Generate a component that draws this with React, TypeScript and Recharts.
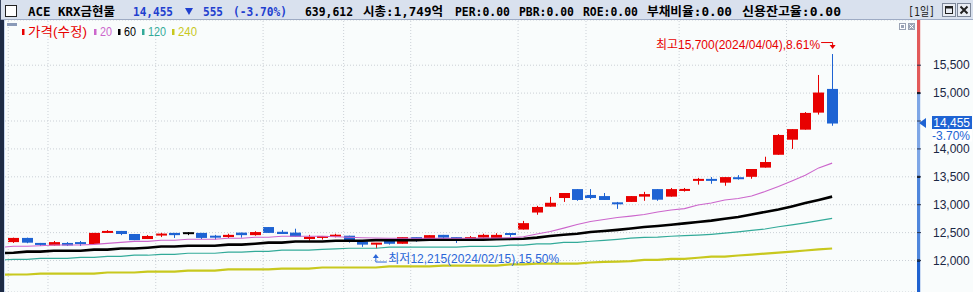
import React from 'react';
import {
  ComposedChart, Bar, Line, XAxis, YAxis, CartesianGrid,
  ReferenceLine, ReferenceArea, ReferenceDot,
} from 'recharts';

// daily candles, 2024-01 .. 2024-04-04 (62 sessions)
const opens = [
  12330, 12405, 12315, 12270, 12315, 12330, 12295, 12495, 12530, 12475,
  12385, 12455, 12495, 12490, 12495, 12435, 12420, 12500, 12455, 12600,
  12515, 12500, 12385, 12405, 12440, 12445, 12340, 12290, 12355, 12300,
  12420, 12380, 12460, 12420, 12355, 12410, 12390, 12480, 12555, 12860,
  12965, 13120, 13280, 13175, 13155, 13030, 13050, 13145, 13280, 13145,
  13250, 13430, 13460, 13395, 13485, 13500, 13665, 13895, 14165, 14345,
  14650, 15075,
];
const highs = [
  12410, 12410, 12315, 12350, 12330, 12350, 12495, 12545, 12530, 12475,
  12455, 12495, 12495, 12510, 12495, 12460, 12480, 12500, 12525, 12600,
  12545, 12570, 12460, 12440, 12480, 12445, 12365, 12315, 12355, 12420,
  12420, 12455, 12460, 12420, 12440, 12480, 12490, 12490, 12710, 12980,
  13140, 13210, 13280, 13280, 13210, 13050, 13155, 13230, 13280, 13300,
  13300, 13480, 13495, 13495, 13530, 13640, 13860, 14265, 14355, 14660,
  15325, 15700,
];
const lows = [
  12315, 12310, 12260, 12270, 12260, 12260, 12295, 12495, 12455, 12365,
  12385, 12420, 12405, 12455, 12385, 12375, 12405, 12410, 12445, 12495,
  12475, 12425, 12355, 12375, 12415, 12320, 12245, 12215, 12285, 12300,
  12335, 12380, 12380, 12315, 12355, 12410, 12390, 12425, 12555, 12820,
  12965, 13050, 13070, 13100, 13085, 12925, 13050, 13070, 13070, 13145,
  13235, 13360, 13375, 13340, 13450, 13465, 13665, 13895, 14000, 14345,
  14615, 14415,
];
const closes = [
  12405, 12320, 12280, 12330, 12270, 12295, 12495, 12530, 12475, 12365,
  12440, 12475, 12455, 12490, 12405, 12420, 12460, 12455, 12510, 12495,
  12475, 12425, 12425, 12440, 12450, 12365, 12285, 12315, 12300, 12420,
  12360, 12455, 12410, 12360, 12420, 12460, 12460, 12470, 12670, 12960,
  13035, 13210, 13085, 13120, 13085, 13020, 13155, 13190, 13090, 13280,
  13280, 13460, 13430, 13495, 13465, 13640, 13765, 14250, 14355, 14645,
  15010, 14455,
];

// moving averages; first value is the session just left of the visible window
const ma20 = [
  12235,
  12255, 12255, 12265, 12278, 12278, 12278, 12290, 12308, 12326, 12344,
  12344, 12362, 12362, 12380, 12380, 12380, 12398, 12398, 12416, 12416,
  12434, 12434, 12434, 12434, 12427, 12416, 12409, 12403, 12398, 12398,
  12398, 12398, 12398, 12398, 12398, 12403, 12403, 12409, 12427, 12475,
  12520, 12580, 12645, 12700, 12735, 12770, 12795, 12825, 12870, 12905,
  12930, 12995, 13030, 13085, 13110, 13155, 13235, 13325, 13425, 13530,
  13660, 13745,
];
const ma60 = [
  12130,
  12140, 12160, 12160, 12175, 12175, 12175, 12195, 12195, 12215, 12215,
  12230, 12250, 12250, 12265, 12265, 12265, 12285, 12285, 12300, 12320,
  12320, 12340, 12340, 12340, 12355, 12355, 12355, 12365, 12365, 12365,
  12365, 12375, 12375, 12375, 12375, 12375, 12380, 12385, 12390, 12410,
  12440, 12462, 12480, 12510, 12530, 12550, 12575, 12600, 12620, 12640,
  12665, 12690, 12715, 12750, 12780, 12825, 12870, 12915, 12970, 13030,
  13085, 13145,
];
const ma120 = [
  12010,
  12020, 12020, 12040, 12040, 12040, 12055, 12055, 12075, 12075, 12095,
  12095, 12110, 12110, 12130, 12130, 12130, 12150, 12150, 12165, 12165,
  12185, 12185, 12185, 12200, 12210, 12220, 12220, 12220, 12240, 12240,
  12240, 12240, 12240, 12240, 12255, 12255, 12255, 12275, 12275, 12300,
  12300, 12325, 12325, 12345, 12360, 12380, 12400, 12415, 12420, 12435,
  12445, 12455, 12470, 12490, 12515, 12540, 12565, 12605, 12640, 12675,
  12715, 12755,
];
const ma240 = [
  11745,
  11750, 11750, 11765, 11765, 11765, 11765, 11765, 11785, 11785, 11785,
  11800, 11800, 11800, 11820, 11820, 11820, 11840, 11840, 11840, 11840,
  11855, 11855, 11855, 11875, 11875, 11875, 11875, 11875, 11895, 11895,
  11895, 11895, 11910, 11910, 11910, 11910, 11910, 11930, 11930, 11945,
  11945, 11945, 11945, 11965, 11975, 11980, 11990, 12010, 12010, 12030,
  12030, 12050, 12070, 12070, 12090, 12105, 12125, 12140, 12160, 12180,
  12200, 12215,
];

const priceTicks = [12000, 12500, 13000, 13500, 14000, 14500, 15000, 15500];
const dateGrid = [-0.39, 2.57, 10.6, 18.6, 24.6, 29.6, 37.6, 42.66, 49.6, 57.6];
const axisBands = [
  { from: 15000, to: 16310, color: '#e25a5a' },
  { from: 13500, to: 15000, color: '#7ea6e6' },
  { from: 12000, to: 13500, color: '#4f86dc' },
  { from: 11436, to: 12000, color: '#1f62d0' },
];
const bandMarks = [15000, 13500, 12000];
const hiDate = '2024/04/04';
const loDate = '2024/02/15';

const X_DOMAIN: [number, number] = [-0.633, 67.325];
const Y_DOMAIN: [number, number] = [11436, 16310];

const RED = '#e80000';
const BLUE = '#1e63d3';
const VIOLET = '#cc66cc';
const TEAL = '#33aa99';
const OLIVE = '#c8c81e';
const BG = '#f9fcfc';
const GRID = '#cbd0d6';
const FONT = "'Liberation Sans', Arial, 'Noto Sans CJK KR', sans-serif";
const HFONT = "'DejaVu Sans Mono', 'Noto Sans CJK KR', monospace";

const rows = ma20.map((_, k) => {
  const i = k - 1;
  const r: any = { i, ma20: ma20[k], ma60: ma60[k], ma120: ma120[k], ma240: ma240[k] };
  if (i >= 0) {
    r.o = opens[i]; r.h = highs[i]; r.l = lows[i]; r.c = closes[i];
  }
  return r;
});

const last = closes[closes.length - 1];
const prev = closes[closes.length - 2];
const fmt = (v: number) => v.toLocaleString('en-US');
const pct = (v: number) => v.toFixed(2) + '%';
const hiIdx = highs.indexOf(Math.max(...highs));
const loIdx = lows.indexOf(Math.min(...lows));
const hiText = `최고${fmt(highs[hiIdx])}(${hiDate}),${pct(((highs[hiIdx] - last) / last) * 100)}`;
const loText = `최저${fmt(lows[loIdx])}(${loDate}),${pct(((last - lows[loIdx]) / last) * 100)}`;

function Candle(props: any) {
  const { x, y, width, height, payload } = props;
  if (!payload || payload.o == null || !isFinite(y)) return null;
  const { o, h, l, c } = payload;
  const top = Math.min(y, y + height);
  const span = Math.abs(height);
  const py = (v: number) => (h === l ? top : top + ((h - v) / (h - l)) * span);
  const color = c > o ? RED : c < o ? BLUE : '#000';
  const cx = Math.round(x + width / 2) + 0.5;
  let bt = py(Math.max(o, c));
  let bb = py(Math.min(o, c));
  if (bb - bt < 2) {
    const m = (bt + bb) / 2;
    bt = m - 1; bb = m + 1;
  }
  return (
    <g>
      <line x1={cx} x2={cx} y1={top} y2={top + span} stroke={color} strokeWidth={1} />
      <rect x={cx - 5.5} y={bt} width={11} height={bb - bt} fill={color} />
    </g>
  );
}

function PriceTick(props: any) {
  const { x, y, payload } = props;
  if (Math.abs(payload.value - last) < 200) return null;
  return (
    <text x={x} y={y} dy={4} fill="#1a2744" fontSize={12} fontFamily={FONT}>
      {fmt(payload.value)}
    </text>
  );
}

function PriceTag(props: any) {
  const vb = props.viewBox;
  if (!vb) return null;
  const x = vb.x + vb.width;
  const y = vb.y;
  return (
    <g fontFamily={FONT} fontSize={12}>
      <polygon points={`${x + 2},${y - 0.5} ${x + 9},${y - 5.5} ${x + 9},${y + 4.5}`} fill={BLUE} />
      <rect x={x + 15} y={y - 7.5} width={40} height={13} fill={BLUE} />
      <text x={x + 53} y={y + 3.5} textAnchor="end" fill="#fff">{fmt(last)}</text>
      <rect x={x + 15} y={y + 5.5} width={40} height={12.5} fill="#fff" />
      <text x={x + 53} y={y + 16.5} textAnchor="end" fill={BLUE}>
        {pct(((last - prev) / prev) * 100)}
      </text>
    </g>
  );
}

function HighMark(props: any) {
  const { cx, cy } = props;
  return (
    <g>
      <text x={cx - 12} y={cy - 5.5} textAnchor="end" fill={RED} fontSize={12} fontFamily={FONT}>{hiText}</text>
      <polyline points={`${cx - 11},${cy - 11.5} ${cx + 0.5},${cy - 11.5} ${cx + 0.5},${cy - 8}`} fill="none" stroke={RED} strokeWidth={1} />
      <polygon points={`${cx - 2.5},${cy - 9} ${cx + 3.5},${cy - 9} ${cx + 0.5},${cy - 5}`} fill={RED} />
    </g>
  );
}

function LowMark(props: any) {
  const { cx, cy } = props;
  const c = '#2a66d8';
  return (
    <g>
      <polyline points={`${cx},${cy + 9} ${cx},${cy + 13.5} ${cx + 11},${cy + 13.5}`} fill="none" stroke={c} strokeWidth={1} />
      <polygon points={`${cx - 3},${cy + 9.5} ${cx + 3},${cy + 9.5} ${cx},${cy + 5.5}`} fill={c} />
      <text x={cx + 12.5} y={cy + 14} fill={c} fontSize={12} fontFamily={FONT}>{loText}</text>
    </g>
  );
}

function Header() {
  const blue = '#1f3fcf';
  const items = [
    { t: 'ACE KRX금현물', x: 28, w: 87, c: '#000' },
    { t: fmt(last), x: 133, w: 40, c: blue },
    { t: fmt(prev - last), x: 203, w: 20, c: blue },
    { t: `(${pct(((last - prev) / prev) * 100)})`, x: 233, w: 54, c: blue },
    { t: '639,612', x: 305, w: 48, c: '#000' },
    { t: '시총:1,749억', x: 363, w: 80, c: '#000' },
    { t: 'PER:0.00', x: 455, w: 55, c: '#000' },
    { t: 'PBR:0.00', x: 519, w: 55, c: '#000' },
    { t: 'ROE:0.00', x: 583, w: 55, c: '#000' },
    { t: '부채비율:0.00', x: 647, w: 85, c: '#000' },
    { t: '신용잔고율:0.00', x: 742, w: 99, c: '#000' },
  ];
  const legend = [
    { t: '20', x: 100, w: 12, c: VIOLET },
    { t: '60', x: 124, w: 12, c: '#000' },
    { t: '120', x: 148, w: 18, c: TEAL },
    { t: '240', x: 178, w: 19, c: OLIVE },
  ];
  return (
    <svg width={973} height={292} style={{ position: 'absolute', left: 0, top: 0, pointerEvents: 'none' }}>
      <rect x={0} y={0} width={973} height={20} fill="#d9e1ee" />
      <line x1={0} x2={973} y1={19.5} y2={19.5} stroke="#9eabc4" />
      <rect x={0} y={0} width={1} height={20} fill="#3a4660" />
      <rect x={0} y={20} width={4} height={272} fill="#1d2a44" />
      <rect x={4} y={20} width={1} height={272} fill="#c5d5ee" />
      <rect x={5.5} y={5.5} width={11} height={11} fill="#fff" stroke="#222" />
      {items.map((d) => (
        <text key={d.t} x={d.x} y={16} fill={d.c} fontSize={12.5} fontWeight="bold" fontFamily={HFONT}
          textLength={d.w} lengthAdjust="spacingAndGlyphs">{d.t}</text>
      ))}
      <polygon points="185,8 193,8 189,15" fill={blue} />
      <text x={908} y={16} fill="#222" fontSize={12.5} fontFamily={HFONT} textLength={27} lengthAdjust="spacingAndGlyphs">[1일]</text>
      <rect x={942.5} y={3.5} width={13} height={13} fill="#e9edf4" stroke="#7d8799" />
      <rect x={945.5} y={6.5} width={7} height={7} fill="none" stroke="#222" />
      <rect x={945.5} y={6.5} width={7} height={2} fill="#222" />
      <rect x={957.5} y={3.5} width={13} height={13} fill="#e9edf4" stroke="#7d8799" />
      <path d="M960.5,6.5 L967.5,13.5 M967.5,6.5 L960.5,13.5" stroke="#222" strokeWidth={2} />

      <rect x={7} y={23} width={10} height={3} fill="#8a9ab8" />
      <rect x={22} y={29} width={2.5} height={6} fill={RED} />
      <text x={28} y={36} fill={RED} fontSize={13} fontFamily={FONT} textLength={59} lengthAdjust="spacingAndGlyphs">가격(수정)</text>
      {legend.map((d) => (
        <g key={d.t}>
          <rect x={d.x - 6} y={29} width={2.5} height={6} fill={d.c} />
          <text x={d.x} y={35.5} fill={d.c} fontSize={12} fontFamily={FONT} textLength={d.w} lengthAdjust="spacingAndGlyphs">{d.t}</text>
        </g>
      ))}
      <rect x={899.5} y={23.5} width={6} height={6} fill="#fff" stroke="#9aa3b4" />
      <rect x={901} y={25} width={3} height={3} fill="#9aa3b4" />
      <rect x={908.5} y={23.5} width={6} height={6} fill="#9aa3b4" stroke="#9aa3b4" />
      <path d="M909.5,24.5 L913.5,28.5 M913.5,24.5 L909.5,28.5" stroke="#fff" strokeWidth={1} />
    </svg>
  );
}

export default function App() {
  const bandW = 3.2 * (X_DOMAIN[1] - X_DOMAIN[0]) / 912;
  return (
    <div style={{ position: 'relative', width: 973, height: 292, background: BG, overflow: 'hidden' }}>
      <style>{'body{margin:0}'}</style>
      <div style={{ position: 'absolute', left: 0, top: 0 }}>
        <ComposedChart width={973} height={292} data={rows} margin={{ top: 20, right: 0, bottom: 0, left: 5 }}>
          <CartesianGrid vertical={false} stroke={GRID} strokeDasharray="1 2" />
          <XAxis type="number" dataKey="i" domain={X_DOMAIN} hide allowDataOverflow />
          <YAxis
            orientation="right"
            domain={Y_DOMAIN}
            ticks={priceTicks}
            width={56}
            allowDataOverflow
            axisLine={false}
            tickLine={{ stroke: '#2a3550' }}
            tickSize={4}
            tickMargin={12}
            tick={<PriceTick />}
          />
          {dateGrid.map((g) => (
            <ReferenceLine key={g} x={g} stroke={GRID} strokeDasharray="1 2" />
          ))}
          {axisBands.map((b) => (
            <ReferenceArea key={b.from} x1={X_DOMAIN[1]} x2={X_DOMAIN[1] + bandW} y1={b.from} y2={b.to}
              fill={b.color} fillOpacity={1} stroke="none" ifOverflow="visible" />
          ))}
          {bandMarks.map((m) => (
            <ReferenceLine key={m} segment={[{ x: X_DOMAIN[1], y: m }, { x: X_DOMAIN[1] + bandW, y: m }]}
              stroke="#000" strokeWidth={2} ifOverflow="visible" />
          ))}
          <Line dataKey="ma240" type="linear" stroke={OLIVE} strokeWidth={2.2} dot={false} isAnimationActive={false} />
          <Line dataKey="ma120" type="linear" stroke={TEAL} strokeWidth={1.2} dot={false} isAnimationActive={false} />
          <Line dataKey="ma60" type="linear" stroke="#000" strokeWidth={2.6} dot={false} isAnimationActive={false} />
          <Line dataKey="ma20" type="linear" stroke={VIOLET} strokeWidth={1.1} dot={false} isAnimationActive={false} />
          <Bar
            dataKey={(d: any) => (d.o == null ? null : [d.l, d.h])}
            barSize={11}
            shape={<Candle />}
            isAnimationActive={false}
          />
          <ReferenceLine y={last} stroke="none" label={<PriceTag />} ifOverflow="visible" />
          <ReferenceDot x={hiIdx} y={highs[hiIdx]} shape={<HighMark />} />
          <ReferenceDot x={loIdx} y={lows[loIdx]} shape={<LowMark />} />
        </ComposedChart>
      </div>
      <Header />
    </div>
  );
}
